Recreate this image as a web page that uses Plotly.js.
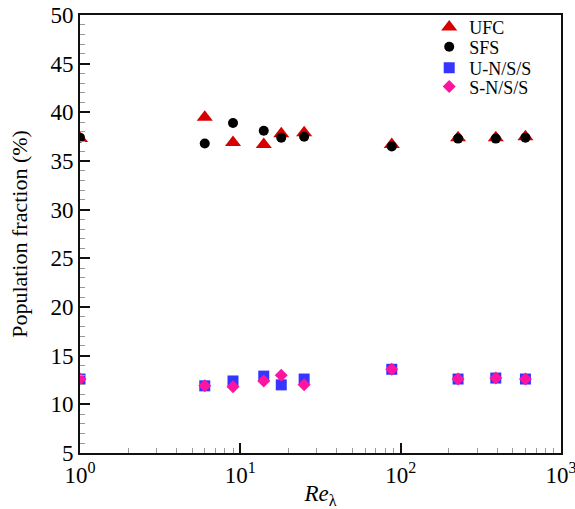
<!DOCTYPE html>
<html>
<head>
<meta charset="utf-8">
<script src="https://cdn.plot.ly/plotly-3.0.1.min.js"></script>
<style>
  html, body { margin: 0; padding: 0; background: #fff; }
  #chart { width: 575px; height: 509px; }
</style>
</head>
<body>
<div id="chart"></div>
<script>
// Taylor-microscale Reynolds numbers of the data sets
const reLambda = [1, 6, 9, 14, 18, 25, 88, 228, 392, 600];

// Population fractions (%) of each flow topology
const ufc  = [37.3, 39.5, 36.9, 36.7, 37.8, 37.9, 36.7, 37.4, 37.4, 37.5];
const sfs  = [37.4, 36.8, 38.9, 38.1, 37.4, 37.5, 36.5, 37.3, 37.3, 37.4];
const unss = [12.6, 11.9, 12.4, 12.9, 12.0, 12.6, 13.6, 12.6, 12.7, 12.6];
const snss = [12.6, 11.9, 11.8, 12.4, 13.0, 12.0, 13.6, 12.6, 12.7, 12.6];

// Axis tick positions and labels
const xMajor = [1, 10, 100, 1000];
const xMajorText = ['10<sup>0</sup>', '10<sup>1</sup>', '10<sup>2</sup>', '10<sup>3</sup>'];
const xMinor = [];
for (const d of [1, 10, 100]) {
  for (let k = 2; k <= 9; k++) xMinor.push(k * d);
}

const serif = '"Liberation Serif", "Times New Roman", Times, serif';

// one legend per series so the rows can be stacked tightly
const legendRows = [0.972, 0.927, 0.879, 0.836];

const traces = [
  { name: 'UFC', x: reLambda, y: ufc, mode: 'markers', type: 'scatter', legend: 'legend',
    marker: { symbol: 'triangle-up', size: 14, color: '#d60000' } },
  { name: 'SFS', x: reLambda, y: sfs, mode: 'markers', type: 'scatter', legend: 'legend2',
    marker: { symbol: 'circle', size: 10, color: '#000000' } },
  { name: 'U-N/S/S', x: reLambda, y: unss, mode: 'markers', type: 'scatter', legend: 'legend3',
    marker: { symbol: 'square', size: 11, color: '#3535ff' } },
  { name: 'S-N/S/S', x: reLambda, y: snss, mode: 'markers', type: 'scatter', legend: 'legend4',
    marker: { symbol: 'diamond', size: 10, color: '#ff14a0' } }
];

function legendAt(y) {
  return {
    x: 0.726, y: y, xanchor: 'left', yanchor: 'middle',
    bgcolor: 'rgba(0,0,0,0)', borderwidth: 0,
    font: { family: serif, size: 18, color: '#000' },
    itemwidth: 30
  };
}

const layout = {
  width: 575, height: 509,
  margin: { l: 80, r: 14, t: 15, b: 56, autoexpand: false },
  paper_bgcolor: '#fff', plot_bgcolor: '#fff',
  font: { family: serif, color: '#000', size: 22 },
  showlegend: true,
  legend: legendAt(legendRows[0]),
  legend2: legendAt(legendRows[1]),
  legend3: legendAt(legendRows[2]),
  legend4: legendAt(legendRows[3]),
  xaxis: {
    type: 'log', range: [0, 3],
    tickmode: 'array', tickvals: xMajor, ticktext: xMajorText,
    ticklabeloverflow: 'allow',
    ticks: 'inside', ticklen: 10, tickwidth: 2, tickcolor: '#111',
    minor: { tickmode: 'array', tickvals: xMinor, ticks: 'inside', ticklen: 5, tickwidth: 1, tickcolor: '#999' },
    showline: true, linewidth: 2, linecolor: '#111', mirror: true,
    showgrid: false, zeroline: false,
    tickfont: { family: serif, size: 23 },
    title: { text: '<i>Re</i><sub>λ</sub>', font: { family: serif, size: 23 }, standoff: 0 }
  },
  yaxis: {
    range: [5, 50], tickmode: 'linear', tick0: 5, dtick: 5,
    ticks: 'inside', ticklen: 10, tickwidth: 2, tickcolor: '#111',
    minor: { dtick: 1, ticks: 'inside', ticklen: 5, tickwidth: 1, tickcolor: '#999' },
    showline: true, linewidth: 2, linecolor: '#111', mirror: true,
    showgrid: false, zeroline: false,
    tickfont: { family: serif, size: 23 },
    title: { text: 'Population fraction (%)', font: { family: serif, size: 22 }, standoff: 17 }
  }
};

Plotly.newPlot('chart', traces, layout, { displayModeBar: false, staticPlot: true });
</script>
</body>
</html>
